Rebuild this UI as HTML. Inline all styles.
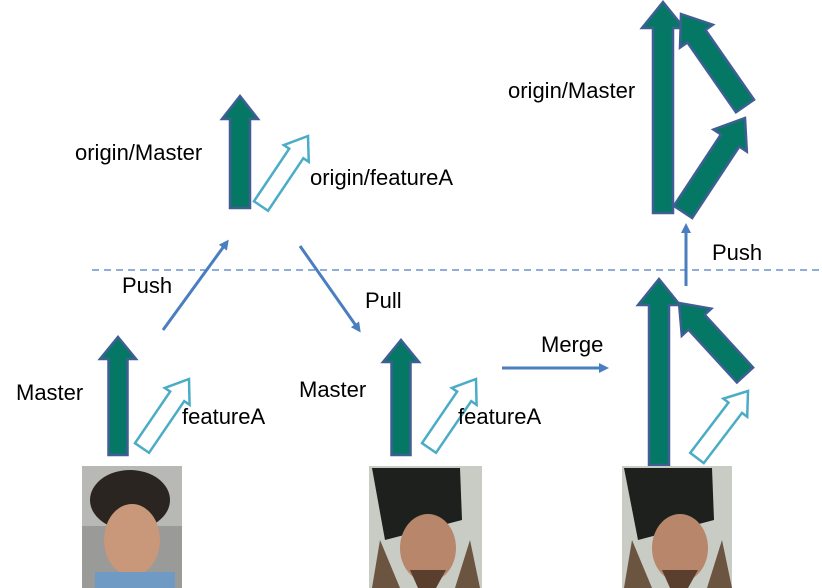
<!DOCTYPE html>
<html><head><meta charset="utf-8"><style>
body{margin:0;background:#fff;width:822px;height:588px;overflow:hidden}
svg{display:block}
text{font-family:"Liberation Sans",sans-serif;font-size:22px;fill:#000}
</style></head><body>
<svg id="s" width="822" height="588" viewBox="0 0 822 588">
<defs>
<marker id="m" markerWidth="10" markerHeight="10" refX="7" refY="5" orient="auto" markerUnits="userSpaceOnUse"><path d="M0,0 L10,5 L0,10 z" fill="#4a7ebf"/></marker>
</defs>
<line x1="92" y1="270" x2="822" y2="270" stroke="#4a7ebf" stroke-width="1.2" stroke-dasharray="7,5"/>
<g stroke="#4a7ebf" stroke-width="3" marker-end="url(#m)">
<line x1="163" y1="330" x2="227" y2="242"/>
<line x1="300" y1="246" x2="359" y2="330"/>
<line x1="502" y1="368" x2="606" y2="368"/>
<line x1="686" y1="286" x2="686" y2="226"/>
</g>
<g id="arrows"></g>
<text x="75" y="160">origin/Master</text>
<text x="310" y="185">origin/featureA</text>
<text x="508" y="98">origin/Master</text>
<text x="122" y="293">Push</text>
<text x="365" y="308">Pull</text>
<text x="541" y="352">Merge</text>
<text x="712" y="260">Push</text>
<text x="16" y="400">Master</text>
<text x="182" y="424">featureA</text>
<text x="299" y="397">Master</text>
<text x="458" y="424">featureA</text>
<g>
<rect x="82" y="466" width="100" height="122" fill="#9a9a98"/>
<rect x="82" y="466" width="100" height="60" fill="#b8b8b4"/>
<ellipse cx="130" cy="500" rx="40" ry="30" fill="#2b2522"/>
<ellipse cx="132" cy="540" rx="28" ry="36" fill="#c9977a"/>
<rect x="95" y="572" width="80" height="16" fill="#6e9ac4"/>
</g>
<g>
<rect x="369" y="466" width="113" height="122" fill="#c8ccc4"/>
<path d="M372,468 L460,468 L462,520 L385,540 Z" fill="#1d201c"/>
<ellipse cx="428" cy="548" rx="28" ry="34" fill="#b8866a"/>
<path d="M380,540 L400,588 L372,588Z M470,540 L480,588 L455,588Z" fill="#6b5440"/>
<path d="M410,570 L446,570 L436,588 L418,588Z" fill="#5a3f2e"/>
</g>
<g>
<rect x="622" y="466" width="110" height="122" fill="#c8ccc4"/>
<path d="M624,468 L712,468 L714,520 L638,540 Z" fill="#1d201c"/>
<ellipse cx="680" cy="548" rx="28" ry="34" fill="#b8866a"/>
<path d="M632,540 L652,588 L624,588Z M722,540 L732,588 L707,588Z" fill="#6b5440"/>
<path d="M662,570 L698,570 L688,588 L670,588Z" fill="#5a3f2e"/>
</g>
</svg>
<script>
function arr(tx,ty,bx,by,sw,hw,hl,hollow){
 var dx=bx-tx,dy=by-ty,L=Math.sqrt(dx*dx+dy*dy);
 var a=Math.atan2(-dx,dy)*180/Math.PI;
 var p=[[0,0],[hw,hl],[sw,hl],[sw,L],[-sw,L],[-sw,hl],[-hw,hl]].map(function(q){return q.join(',')}).join(' ');
 var fill=hollow?'#fff':'#047865',st=hollow?'#4bacc6':'#3f5e94';
 return '<polygon points="'+p+'" transform="translate('+tx+','+ty+') rotate('+a+')" fill="'+fill+'" stroke="'+st+'" stroke-width="2.5" stroke-linejoin="miter"/>';
}
var h='';
h+=arr(118,337,118,455,9.5,18,22,0);
h+=arr(189,379,142,448,8.5,15,21,1);
h+=arr(240,96,240,208,10,18,23,0);
h+=arr(308,136,261,206,8.5,15,21,1);
h+=arr(401,340,401,455,9.5,18,22,0);
h+=arr(476,379,429,448,8.5,15,21,1);
h+=arr(659,279,659,465,10,21,26,0);
h+=arr(748,391,697,458,8.5,15,21,1);
h+=arr(679,303,745,375,11,20,26,0);
h+=arr(663,2,663,213,10,21,26,0);
h+=arr(681,14,745,106,11,20,27,0);
h+=arr(745,118,683,212,11,20,27,0);
document.getElementById('arrows').innerHTML=h;
</script>
</body></html>
